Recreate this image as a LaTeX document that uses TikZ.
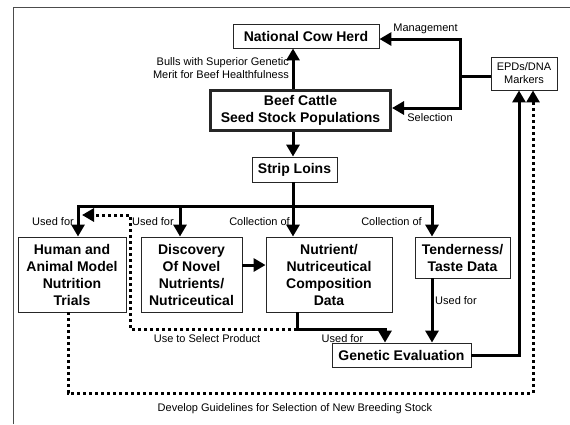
\documentclass[tikz,border=0pt]{standalone}
\usepackage{fontspec}
\setmainfont{Liberation Sans}
\usetikzlibrary{arrows.meta, positioning, calc}

\begin{document}
\begin{tikzpicture}[x=1pt, y=-1pt,
  box/.style={draw=black!85, line width=0.9pt, align=center, inner sep=2pt,
    font=\fontsize{14}{17}\selectfont\bfseries},
  lbl/.style={font=\fontsize{11}{13}\selectfont, align=center, inner sep=0pt},
  bar/.style={line width=3pt},
  arr/.style={line width=3pt, -{Triangle[length=12pt,width=13pt]}},
  dotarr/.style={line width=3pt, dash pattern=on 3pt off 3pt, -{Triangle[length=12pt,width=13pt]}}]
  \useasboundingbox (0,0) rectangle (570,424);
  % Rahmen
  \draw[black!70, line width=1pt] (13,424) -- (13,7) -- (570,7);
  % Kaesten oben
  \node[box, minimum width=146pt, minimum height=24pt] (herd) at (306,36) {National Cow Herd};
  \node[box, line width=3pt, minimum width=180pt, minimum height=40pt] (seed) at (300.5,110.5)
    {Beef Cattle\\Seed Stock Populations};
  \node[box, minimum width=85pt, minimum height=25pt] (loins) at (294.5,169.5) {Strip Loins};
  \node[box, font=\fontsize{11}{13}\selectfont, minimum width=66pt, minimum height=33pt] (epd) at (524,73.5)
    {EPDs/DNA\\Markers};
  % Kaesten unten
  \node[box, minimum width=108pt, minimum height=75pt] (trials) at (72,274.5)
    {Human and\\Animal Model\\Nutrition\\Trials};
  \node[box, minimum width=101pt, minimum height=75pt] (novel) at (191.5,274.5)
    {Discovery\\Of Novel\\Nutrients/\\Nutriceutical};
  \node[box, minimum width=126pt, minimum height=75pt] (comp) at (329,274.5)
    {Nutrient/\\Nutriceutical\\Composition\\Data};
  \node[box, minimum width=95pt, minimum height=41pt] (taste) at (462.5,257.5)
    {Tenderness/\\Taste Data};
  \node[box, minimum width=139pt, minimum height=24pt] (geneval) at (401.5,355) {Genetic Evaluation};
  % Hilfspunkte
  \coordinate (spine) at (293,0);
  \coordinate (bus) at (293,206);
  \coordinate (split) at (460,76);
  \coordinate (sel) at (297,329);
  \coordinate (jog) at (130,215);
  \coordinate (low) at (300,393);
  % Pfeile
  \draw[arr] (seed.north -| spine) -- (herd.south -| spine);
  \draw[arr] (seed.south -| spine) -- (loins.north -| spine);
  \draw[bar] (loins.south -| spine) -- (bus);
  \draw[arr] (bus) -| ([xshift=6pt]trials.north);
  \draw[arr] (bus) -| ([xshift=-11.5pt]novel.north);
  \draw[arr] (bus) -- ([xshift=-36pt]comp.north);
  \draw[arr] (bus) -| ([xshift=-30.5pt]taste.north);
  \draw[arr] ([yshift=9.5pt]novel.east) -- ([yshift=9.5pt]comp.west);
  \draw[arr] ([xshift=-32pt]comp.south) -- (sel) -| ([xshift=-16.5pt]geneval.north);
  \draw[arr] ([xshift=-30.5pt]taste.south) -- ([xshift=-30.5pt]taste.south |- geneval.north);
  \draw[arr] (geneval.east) -| ([xshift=-5pt]epd.south);
  \draw[bar] (epd.west |- split) -- (split);
  \draw[arr] (split) |- ([yshift=-3pt]herd.east);
  \draw[arr] (split) |- ([yshift=2.5pt]seed.east);
  \draw[dotarr] (sel) -| (jog) -- ([xshift=10pt]trials.north |- jog);
  \draw[dotarr] ([xshift=-4pt]trials.south) |- (low) -| ([xshift=9pt]epd.south);
  % Beschriftung
  \node[lbl, align=right, anchor=east] (bulls) at (289,68.5)
    {Bulls with Superior Genetic\\Merit for Beef Healthfulness};
  \node[lbl] (mgmt) at (425.5,29) {Management};
  \node[lbl] (selct) at (430,118) {Selection};
  \node[lbl, anchor=east] (use1) at (74,222) {Used for};
  \node[lbl, anchor=west] (use2) at (132,222) {Used for};
  \node[lbl, anchor=east] (coll1) at (290,222) {Collection of};
  \node[lbl, anchor=east] (coll2) at (422,222) {Collection of};
  \node[lbl, anchor=west] (use3) at (435,301) {Used for};
  \node[lbl] (use4) at (342.5,339) {Used for};
  \node[lbl] (prod) at (207,339) {Use to Select Product};
  \node[lbl] (guide) at (295,409) {Develop Guidelines for Selection of New Breeding Stock};
\end{tikzpicture}
\end{document}
